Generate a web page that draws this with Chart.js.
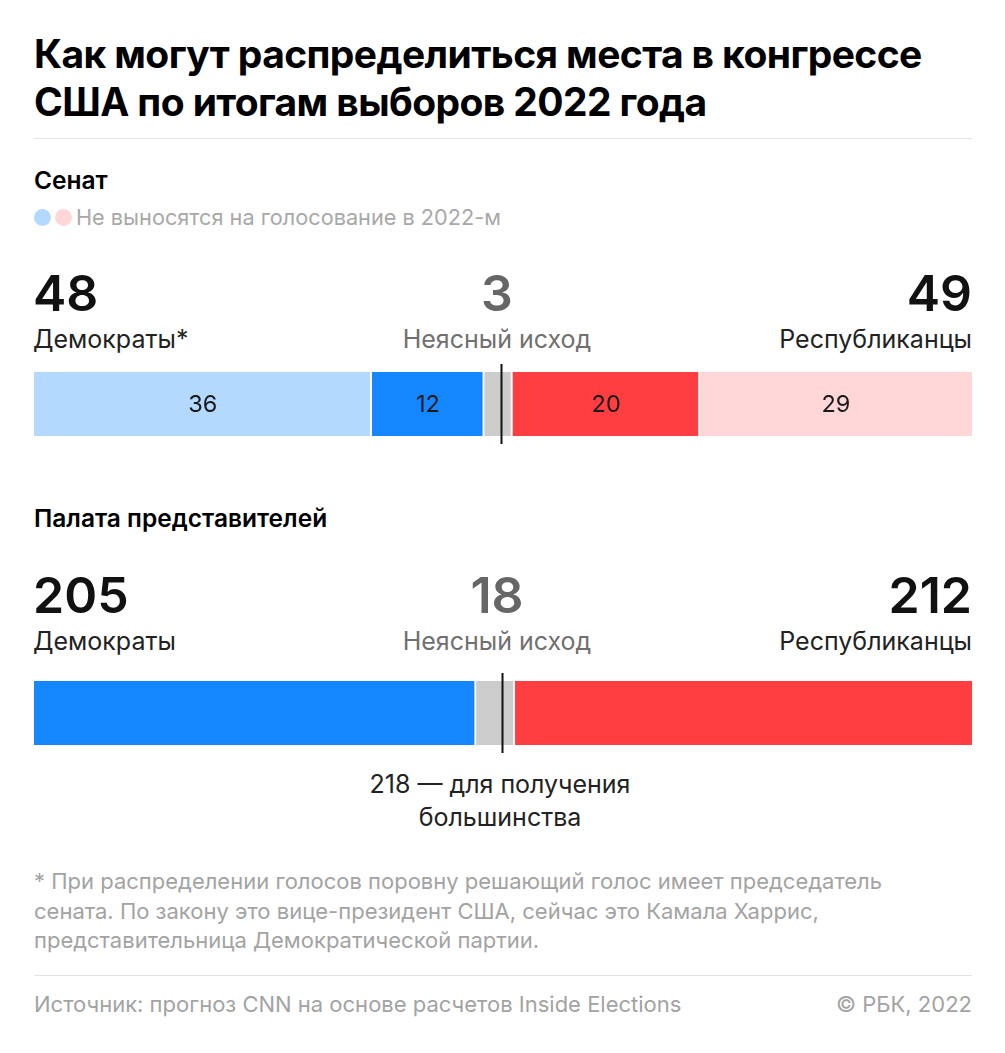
<!DOCTYPE html>
<html lang="ru">
<head>
<meta charset="utf-8">
<script src="https://cdn.jsdelivr.net/npm/chart.js@4.4.1/dist/chart.umd.min.js"></script>
<style>
  html, body { margin: 0; padding: 0; background: #fff; }
  body { width: 1005px; height: 1053px; position: relative; font-family: Inter, "Noto Sans", sans-serif; color: #111; overflow: hidden; }
  .abs { position: absolute; white-space: nowrap; }
  .title { left: 34px; top: 30px; font-size: 39px; font-weight: 700; line-height: 48px; letter-spacing: -0.6px; color: #000; }
  .rule { position: absolute; left: 34px; width: 938px; height: 1px; background: #e3e3e3; }
  .section { left: 34px; font-size: 24.5px; font-weight: 600; color: #000; }
  .legend { left: 34px; top: 204px; font-size: 21.7px; color: #a8a8a8; }
  .dot { position: absolute; width: 17px; height: 17px; border-radius: 50%; top: 5px; }
  .big { font-size: 50px; font-weight: 600; line-height: 56px; color: #111; }
  .sub { font-size: 25px; line-height: 30px; color: #222; }
  .gray { color: #666; }
  .lgray { color: #707070; }
  .note { left: 34px; font-size: 22px; line-height: 29.5px; color: #a3a3a3; }
  canvas { position: absolute; left: 0; }
</style>
</head>
<body>
<script>
// ---- data ----
const senateSegments = ['Демократы (не выносятся)', 'Демократы', 'Неясный исход', 'Республиканцы', 'Республиканцы (не выносятся)'];
const senateValues = [36, 12, 3, 20, 29];
const senateShowValue = [true, true, false, true, true];
const senateTotals = [48, 3, 49];
const senateMajority = 50;

const houseSegments = ['Демократы', 'Неясный исход', 'Республиканцы'];
const houseValues = [205, 18, 212];
const houseTotals = [205, 18, 212];
const houseMajority = 218;

const groupNames = ['Демократы', 'Неясный исход', 'Республиканцы'];
</script>

<div class="abs title">Как могут распределиться места в конгрессе<br>США по итогам выборов 2022 года</div>
<div class="rule" style="top:138px"></div>

<div class="abs section" style="top:165px">Сенат</div>
<div class="abs legend"><span class="dot" style="left:21px;background:#ffd7d9"></span><span class="dot" style="left:0;background:#b3d9ff"></span><span style="margin-left:42px">Не выносятся на голосование в 2022-м</span></div>

<div id="senTop"></div>
<canvas id="senate" width="1005" height="92" style="top:360px;width:1005px;height:92px"></canvas>

<div class="abs section" style="top:503px">Палата представителей</div>
<div id="houseTop"></div>
<canvas id="house" width="1005" height="92" style="top:669px;width:1005px;height:92px"></canvas>

<div class="abs sub" id="majLabel" style="left:0;width:1000px;top:768px;text-align:center;line-height:33px;white-space:normal"></div>

<div class="abs note" style="top:867px">* При распределении голосов поровну решающий голос имеет председатель<br>сената. По закону это вице-президент США, сейчас это Камала Харрис,<br>представительница Демократической партии.</div>
<div class="rule" style="top:975px"></div>
<div class="abs note" style="top:990px">Источник: прогноз CNN на основе расчетов Inside Elections</div>
<div class="abs note" style="top:990px;left:auto;right:33px">© РБК, 2022</div>

<script>
function headerBlock(container, totals, top, starDem) {
  const el = document.getElementById(container);
  const names = [groupNames[0] + (starDem ? '*' : ''), groupNames[1], groupNames[2]];
  const pos = [
    'left:33px;text-align:left',
    'left:0;width:994px;text-align:center',
    'right:33px;text-align:right'
  ];
  const cls = ['', 'gray', ''];
  const cls2 = ['', 'lgray', ''];
  let html = '';
  for (let i = 0; i < 3; i++) {
    html += '<div class="abs big ' + cls[i] + '" style="top:' + top + 'px;' + pos[i] + '">' + totals[i] + '</div>';
    html += '<div class="abs sub ' + cls2[i] + '" style="top:' + (top + 59) + 'px;' + pos[i] + '">' + names[i] + '</div>';
  }
  el.innerHTML = html;
}
headerBlock('senTop', senateTotals, 265, true);
headerBlock('houseTop', houseTotals, 567, false);
document.getElementById('majLabel').innerHTML = houseMajority + ' — для получения<br>большинства';

const majorityLine = {
  id: 'majorityLine',
  afterDatasetsDraw(chart, args, opts) {
    const {ctx, chartArea, scales} = chart;
    const x = Math.round(scales.x.getPixelForValue(opts.value)) - 1.5;
    ctx.save();
    ctx.strokeStyle = '#111';
    ctx.lineWidth = 2;
    ctx.beginPath();
    ctx.moveTo(x, chartArea.top - 8);
    ctx.lineTo(x, chartArea.bottom + 8);
    ctx.stroke();
    ctx.restore();
  }
};
const innerLabels = {
  id: 'innerLabels',
  afterDatasetsDraw(chart, args, opts) {
    if (!opts.show) return;
    const {ctx} = chart;
    ctx.save();
    ctx.font = '400 23.5px Inter, "Noto Sans", sans-serif';
    ctx.fillStyle = '#1a1a1a';
    ctx.textAlign = 'center';
    ctx.textBaseline = 'middle';
    chart.data.datasets.forEach((ds, i) => {
      if (!opts.show[i]) return;
      const bar = chart.getDatasetMeta(i).data[0];
      const cx = (bar.x + bar.base) / 2;
      ctx.fillText(String(ds.data[0]), cx, bar.y + 1);
    });
    ctx.restore();
  }
};

function makeBar(id, names, values, colors, total, majority, show) {
  const datasets = names.map((n, i) => ({
    label: n,
    data: [values[i]],
    backgroundColor: colors[i],
    borderColor: '#ffffff',
    borderWidth: i < names.length - 1 ? {right: 2, left: 0, top: 0, bottom: 0} : 0,
    borderSkipped: false,
    barPercentage: 1,
    categoryPercentage: 1
  }));
  return new Chart(document.getElementById(id), {
    type: 'bar',
    data: {labels: [''], datasets},
    options: {
      indexAxis: 'y',
      responsive: false,
      animation: false,
      layout: {padding: {left: 34, right: 33, top: 12, bottom: 16}},
      scales: {
        x: {stacked: true, min: 0, max: total, display: false},
        y: {stacked: true, display: false}
      },
      plugins: {
        legend: {display: false},
        tooltip: {enabled: false},
        majorityLine: {value: majority},
        innerLabels: {show}
      }
    },
    plugins: [majorityLine, innerLabels]
  });
}

const senateTotalSeats = senateValues.reduce((a, b) => a + b, 0);
const houseTotalSeats = houseValues.reduce((a, b) => a + b, 0);
makeBar('senate', senateSegments, senateValues, ['#b3d9ff', '#1487ff', '#cccccc', '#ff3e42', '#ffd7d9'], senateTotalSeats, senateMajority, senateShowValue);
makeBar('house', houseSegments, houseValues, ['#1487ff', '#cccccc', '#ff3e42'], houseTotalSeats, houseMajority, null);
</script>
</body>
</html>
